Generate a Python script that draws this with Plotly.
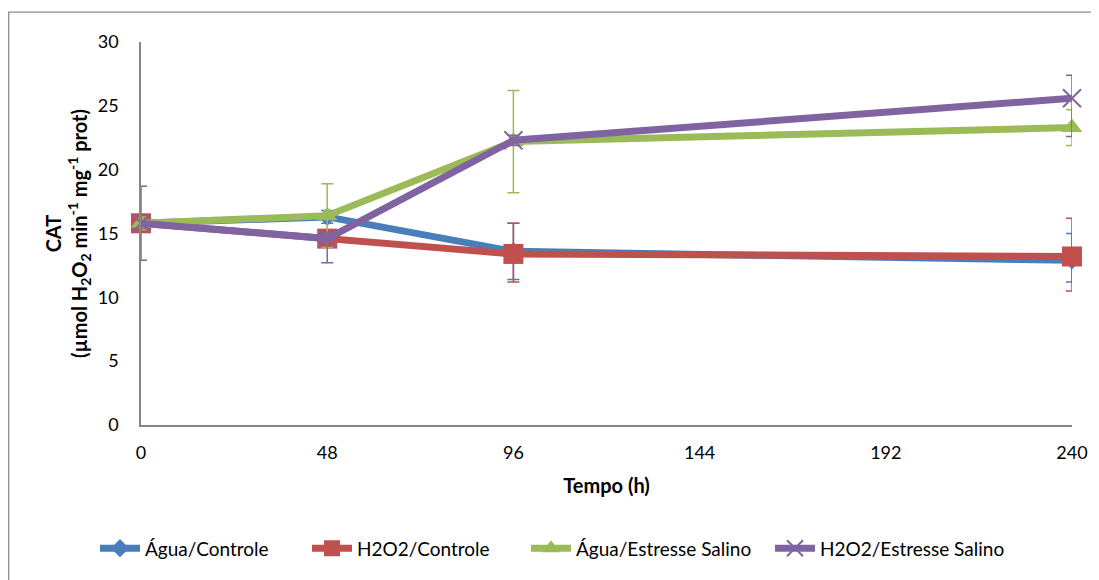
import plotly.graph_objects as go

# ---- data ----
tempo = [0, 48, 96, 240]
x_ticks = [0, 48, 96, 144, 192, 240]
y_ticks = [0, 5, 10, 15, 20, 25, 30]

series_names = ["Água/Controle", "H2O2/Controle", "Água/Estresse Salino", "H2O2/Estresse Salino"]

agua_controle = [15.8, 16.3, 13.6, 12.9]
agua_controle_err_plus = [0.5, 0.5, 2.2, 2.1]
agua_controle_err_minus = [0.5, 0.5, 2.2, 1.7]

h2o2_controle = [15.8, 14.6, 13.4, 13.2]
h2o2_controle_err_plus = [0.5, 0.5, 2.4, 3.0]
h2o2_controle_err_minus = [0.5, 0.5, 2.2, 2.7]

agua_salino = [15.8, 16.4, 22.2, 23.3]
agua_salino_err_plus = [0.5, 2.5, 4.0, 1.4]
agua_salino_err_minus = [0.5, 2.5, 4.0, 1.4]

h2o2_salino = [15.8, 14.6, 22.3, 25.6]
h2o2_salino_err_plus = [2.9, 0.5, 0.4, 1.8]
h2o2_salino_err_minus = [2.9, 1.9, 0.4, 3.0]

# ---- styles ----
colors = ["#4A7EBB", "#C0504D", "#9BBB59", "#8064A2"]
symbols = ["diamond", "square", "triangle-up", "x-thin-open"]
sizes = [14, 20, 18, 18]
FONT = "Lato, Open Sans, sans-serif"

values = [agua_controle, h2o2_controle, agua_salino, h2o2_salino]
errp = [agua_controle_err_plus, h2o2_controle_err_plus, agua_salino_err_plus, h2o2_salino_err_plus]
errm = [agua_controle_err_minus, h2o2_controle_err_minus, agua_salino_err_minus, h2o2_salino_err_minus]

# page body has an 8px margin: figure is drawn offset by 8px
OFF = 8
FIG_W, FIG_H = 1099 - OFF, 580 - OFF
L, R, T, B = 141, 1072, 42, 427  # plot area in viewport px
W, H = R - L, B - T


def px_x(p):
    return (p - L) / W


def px_y(p):
    return (B - p) / H


legend_keys = ["legend", "legend2", "legend3", "legend4"]
legend_x = [95, 307, 526, 770]

fig = go.Figure()
for name, v, ep, em, c, s, sz, lk in zip(series_names, values, errp, errm, colors, symbols, sizes, legend_keys):
    marker = dict(symbol=s, size=sz, color=c)
    if s.startswith("x-thin"):
        marker["line"] = dict(color=c, width=2)
    fig.add_trace(go.Scatter(
        x=tempo, y=v, name=name, mode="lines+markers",
        line=dict(color=c, width=7),
        marker=marker,
        legend=lk,
        cliponaxis=False,
        error_y=dict(type="data", array=ep, arrayminus=em, symmetric=False,
                     color=c, thickness=1.5, width=6),
    ))

# outer chart border (left and top edges visible)
fig.add_shape(type="rect", xref="paper", yref="paper",
              x0=px_x(8.7), x1=px_x(1300), y0=px_y(800), y1=px_y(12),
              line=dict(color="#8C8C8C", width=1.3), fillcolor="rgba(0,0,0,0)", layer="below")

legends = {}
for lk, lx in zip(legend_keys, legend_x):
    legends[lk] = dict(orientation="h", x=px_x(lx), xanchor="left", y=px_y(551), yanchor="middle",
                       font=dict(size=19, family=FONT), itemwidth=40, bgcolor="rgba(0,0,0,0)")

fig.update_layout(
    width=FIG_W, height=FIG_H,
    margin=dict(l=L - OFF, r=FIG_W + OFF - R, t=T - OFF, b=FIG_H + OFF - B),
    paper_bgcolor="white", plot_bgcolor="white",
    font=dict(family=FONT, size=18, color="#000000"),
    showlegend=True,
    xaxis=dict(range=[0, 240], tickvals=x_ticks, ticktext=[str(t) for t in x_ticks],
               showgrid=False, zeroline=False, showline=True, linecolor="#868686", linewidth=1.5,
               ticks="", ticklabelstandoff=11,
               title=dict(text="<b>Tempo (h)</b>", font=dict(size=20), standoff=17)),
    yaxis=dict(range=[0, 30], tickvals=y_ticks, showgrid=False, zeroline=False,
               showline=True, linecolor="#868686", linewidth=1.5, ticks="", ticklabelstandoff=17,
               title=dict(text="<b>CAT<br>(µmol H<sub>2</sub>O<sub>2</sub> min<sup>-1</sup> mg<sup>-1</sup> prot)</b>",
                          font=dict(size=20), standoff=5)),
    **legends,
)

fig.write_html("out.html")
